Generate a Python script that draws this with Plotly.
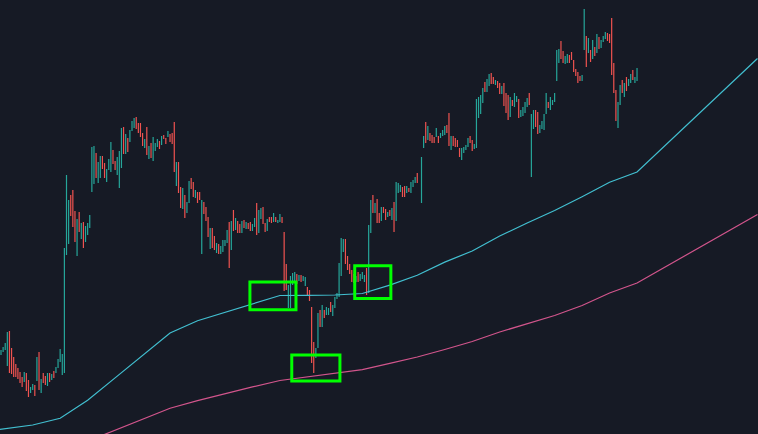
import plotly.graph_objects as go

# ---- 30-minute bars (price units), None = missing bar ----
opens = [
    79, 82, 84, 68, 103, 86, 77, 70, 66, 62, 57, 52, 61, 54, 41, 44, 49, 53, 82, 41, 61, 58, 48, 61, 54, 63, 61, 66, 72, 59, 61,
    179, 190, 239, 244, 223, 178, 222, 195, 212, 192, 199, 206, 242, 250, 281, 251, 256, 278, 271, 252, 264, 262, 284, 273, 259,
    246, 266, 307, 280, 296, 292, 303, 306, 317, 311, 311, 301, 286, 307, 275, 291, 273, 283, 287, 293, 289, 299, 296, 297, 300,
    301, 312, 248, 272, 247, 225, 239,
    221, 231, 256, 252, 236, 242, 242, 180, 232, 227, 217, 185, 206, 198, 181, 190, 180, 182, 188, 191, 212, 184, 224, 204, 213,
    210, 201, 214, 205, 211, 212, 203, 207, 231, 201, 215, 227, 211, 203, 217, 217, 212, 217, 211, 212, 217,
    202, 170, 126, 126, 149, 153, 160, 153, 159, 153, 148, 147, 144, 127, 92, 76, 86, 124, 107, 124, 119, 119, 132, 118, 126,
    135, 137, 158, 182, 195, 178, 170, 164, 160, 152, 162, 153, 155, 152, 166, 141,
    201, 239, 221, 235, 221, 213, 227, 225, 217, 224, 214, 232, 213, 241, 242, 247, 248, 241, 246, 241, 247, 251, 261,
    None,
    231, 286, 312, 294, 301, 299, 297, 297, 298, 296, 298, 299, 309, 321, 284, 298, 296, 294, 286, 274, 281, 284, 287, 298, 294,
    285, 286, 316, 320, 331, 352, 342, 348, 361, 357, 349, 353, 351, 340, 351, 341, 339, 317, 334, 327, 332, 335, 317, 318, 321,
    327, 341, 257, 305, 324, 322, 301, 305, 304, 320, 332, 324, 329, 332,
    353, 371, 393, 383, 370, 371, 379, 382, 374, 365, 362, 358, 353, 384, 398, 381, 384, 375, 387, 381, 397, 386, 392, 395, 401,
    400, 416, 371, 344, 306, 329, 354, 337, 357, 348, 351, 364, 351, 353,
]
closes = [
    84, 87, 91, 102, 61, 60, 57, 57, 55, 51, 47, 62, 43, 37, 47, 50, 38, 77, 44, 55, 51, 49, 61, 52, 60, 56, 67, 75, 85, 80, 186,
    259, 234, 218, 207, 192, 215, 202, 211, 186, 208, 211, 219, 287, 288, 256, 272, 278, 265, 256, 265, 275, 292, 270, 264, 277,
    283, 306, 280, 300, 282, 304, 313, 316, 305, 301, 297, 288, 295, 279, 288, 276, 297, 291, 295, 285, 298, 295, 290, 303, 292,
    290, 262, 272, 241, 226, 246, 216,
    232, 253, 245, 237, 244, 231, 234, 234, 220, 213, 197, 206, 186, 184, 191, 180, 188, 194, 194, 204, 166, 213, 203, 216, 201,
    201, 213, 206, 212, 205, 203, 210, 216, 199, 224, 226, 210, 202, 215, 212, 211, 221, 212, 214, 220, 211,
    143, 144, 149, 158, 161, 162, 150, 159, 152, 158, 157, 139, 133, 71, 61, 86, 121, 107, 129, 116, 127, 126, 122, 129, 137,
    141, 171, 196, 195, 170, 164, 160, 152, 151, 158, 152, 160, 162, 159, 139, 209,
    234, 221, 231, 211, 211, 227, 221, 214, 222, 218, 226, 202, 252, 251, 249, 237, 237, 248, 242, 252, 254, 257, 251,
    None,
    277, 298, 291, 308, 293, 291, 291, 306, 291, 301, 304, 308, 301, 288, 298, 288, 287, 287, 277, 286, 287, 289, 296, 291, 283,
    290, 335, 337, 339, 346, 342, 355, 360, 350, 350, 354, 346, 340, 348, 328, 321, 314, 337, 328, 341, 338, 316, 324, 327, 332,
    336, 329, 320, 324, 307, 300, 309, 313, 320, 341, 326, 337, 334, 341,
    384, 385, 375, 371, 378, 380, 371, 374, 362, 358, 351, 353, 359, 425, 367, 396, 372, 394, 378, 400, 385, 394, 398, 402, 393,
    391, 359, 341, 313, 332, 349, 341, 351, 343, 355, 360, 354, 357, 366,
]

# ---- daily moving averages (bar index of each daily point, value) ----
fast_ma_bars = [-11, 2, 15, 28, 41, 54, 67, 80, 93, 106, 119, 132, 145, 158, 171, 184, 197, 210, 223, 236, 249, 262, 275, 288, 301, 358]
fast_ma = [1.8, 5.4, 9.0, 15.7, 33.8, 56.1, 78.6, 101, 113.2, 121.8, 130.1, 138.5, 138.7, 139, 140.5, 148.9, 158.8, 171.9,
           183, 198, 211, 223.5, 237.3, 251.8, 262, 375.5]
slow_ma_bars = [41, 54, 67, 80, 93, 106, 119, 132, 145, 158, 171, 184, 197, 210, 223, 236, 249, 262, 275, 288, 301, 358]
slow_ma = [-7.2, 3.8, 14.8, 25.8, 33.4, 40.4, 47.1, 53.5, 57.1, 60.7, 64.4, 70.7, 77, 84.5, 92.5, 102, 110, 118.5, 128.5,
           141, 151, 219.5]

# ---- highlighted zones: (first bar, last bar, low price, high price) ----
zones = [
    (117.8, 139.6, 124.3, 152.0),
    (137.6, 160.4, 53.0, 79.0),
    (167.4, 184.5, 135.5, 168.2),
]

UP = "#26a69a"
DOWN = "#ef5350"
BG = "#161a25"

bars = list(range(len(opens)))
highs = [None if o is None else max(o, c) for o, c in zip(opens, closes)]
lows = [None if o is None else min(o, c) for o, c in zip(opens, closes)]

fig = go.Figure()
fig.add_trace(go.Ohlc(
    x=bars, open=opens, high=highs, low=lows, close=closes,
    tickwidth=0,
    increasing=dict(line=dict(color=UP, width=1.2)),
    decreasing=dict(line=dict(color=DOWN, width=1.2)),
    hoverinfo="skip", showlegend=False,
))
fig.add_trace(go.Scatter(x=fast_ma_bars, y=fast_ma, mode="lines",
                         line=dict(color="#42bfd0", width=1.2), hoverinfo="skip", showlegend=False))
fig.add_trace(go.Scatter(x=slow_ma_bars, y=slow_ma, mode="lines",
                         line=dict(color="#d2558c", width=1.2), hoverinfo="skip", showlegend=False))

for x0, x1, y0, y1 in zones:
    fig.add_shape(type="rect", xref="x", yref="y", x0=x0, x1=x1, y0=y0, y1=y1,
                  line=dict(color="#00ff00", width=3), fillcolor="rgba(0,0,0,0)", layer="above")

fig.update_layout(
    width=758, height=434,
    margin=dict(l=0, r=0, t=0, b=0),
    paper_bgcolor=BG, plot_bgcolor=BG,
    showlegend=False,
    xaxis=dict(range=[-0.473, 358.25], visible=False, showgrid=False, zeroline=False,
               rangeslider=dict(visible=False), fixedrange=True),
    yaxis=dict(range=[0, 434], visible=False, showgrid=False, zeroline=False, fixedrange=True),
)

fig.write_html(
    "out.html",
    config=dict(displayModeBar=False),
    post_script="document.body.style.margin='0';document.body.style.overflow='hidden';"
                "document.body.style.background='" + BG + "';",
)
